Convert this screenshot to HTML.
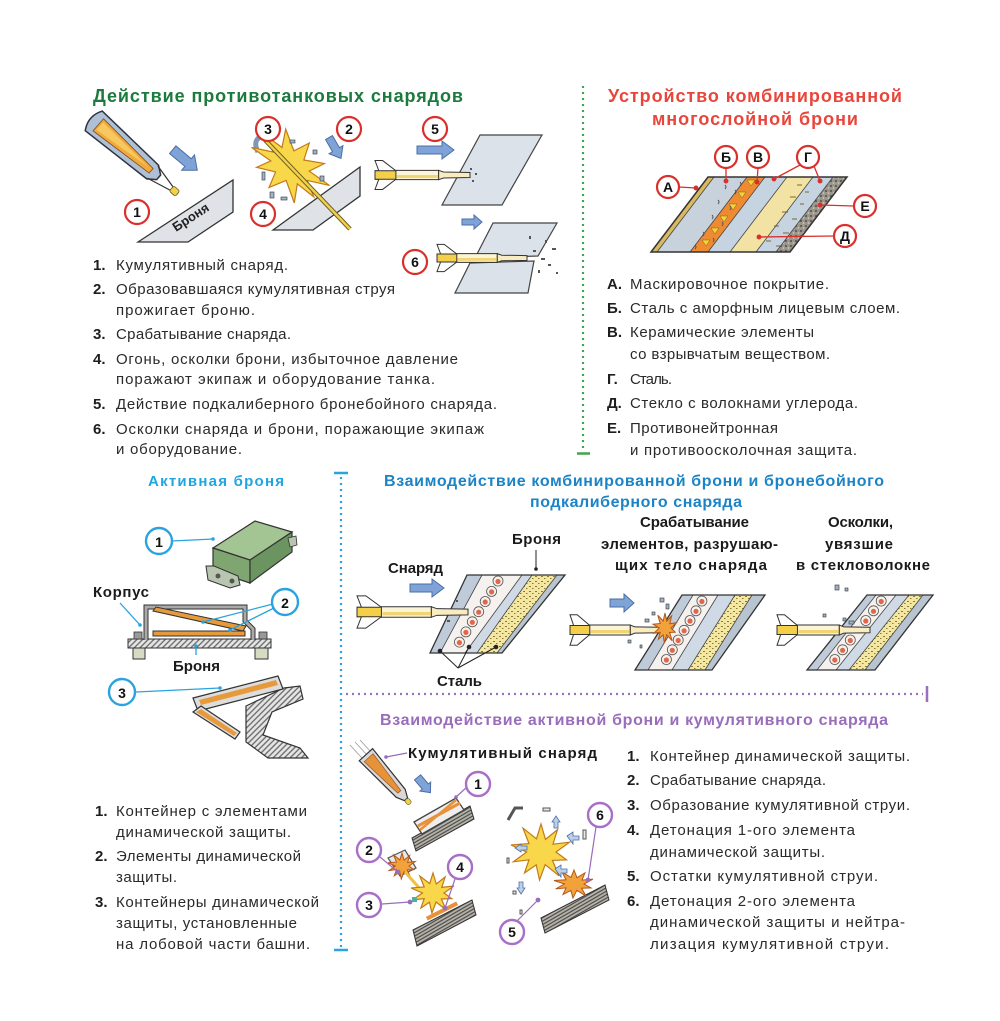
<!DOCTYPE html>
<html><head><meta charset="utf-8">
<style>
html,body{margin:0;padding:0;background:#fff;}
svg{display:block}
.t{font-family:"Liberation Sans","DejaVu Sans",sans-serif;font-size:15px;fill:#2a2a2a}
.n{font-family:"Liberation Sans",sans-serif;font-size:15px;font-weight:bold;fill:#1e1e1e}
.l{font-family:"Liberation Sans",sans-serif;font-size:15px;font-weight:bold;fill:#1a1a1a}
.h{font-family:"Liberation Sans",sans-serif;font-weight:bold}
.c{font-family:"Liberation Sans",sans-serif;font-size:14px;font-weight:bold;fill:#111;text-anchor:middle}
</style></head><body>
<svg width="1000" height="1021" viewBox="0 0 1000 1021" xmlns="http://www.w3.org/2000/svg">
<defs>
 <pattern id="hatch" width="4" height="4" patternUnits="userSpaceOnUse" patternTransform="rotate(45)"><rect width="4" height="4" fill="#e6e6e6"/><line x1="1" y1="0" x2="1" y2="4" stroke="#666" stroke-width="1.3"/></pattern>
 <pattern id="dhatch" width="3" height="3" patternUnits="userSpaceOnUse" patternTransform="rotate(-30)"><rect width="3" height="3" fill="#b9b6ae"/><line x1="0" y1="1" x2="3" y2="1" stroke="#4a4a46" stroke-width="1.2"/></pattern>
 <pattern id="speck" width="5" height="5" patternUnits="userSpaceOnUse"><rect width="5" height="5" fill="#9a968c"/><circle cx="1" cy="1" r="0.9" fill="#3d3b36"/><circle cx="3.5" cy="3" r="0.8" fill="#d6d2c8"/></pattern>
 <pattern id="dots" width="6" height="5" patternUnits="userSpaceOnUse"><rect width="6" height="5" fill="#f3e7a2"/><rect x="1" y="1" width="2" height="1" fill="#8a7a3a"/><rect x="4" y="3" width="1.5" height="1" fill="#8a7a3a"/></pattern>
 <polygon id="star" points="0,-100 15,-45 55,-80 40,-28 95,-35 50,0 85,28 38,30 60,85 14,45 -5,100 -16,46 -55,75 -40,28 -92,35 -48,0 -100,-25 -40,-30 -60,-85 -15,-47" fill="#f8d84a" stroke="#c27a1a" stroke-width="1.2" vector-effect="non-scaling-stroke"/>
 <polygon id="flame" points="0,-100 15,-45 55,-80 40,-28 95,-35 50,0 85,28 38,30 60,85 14,45 -5,100 -16,46 -55,75 -40,28 -92,35 -48,0 -100,-25 -40,-30 -60,-85 -15,-47" fill="#f2a23a" stroke="#b5561a" stroke-width="1" vector-effect="non-scaling-stroke"/>
 <g id="shell">
  <path d="M0,-17 L8,-17 L22,-5 L22,5 L8,17 L0,17 L4,5 L0,5 L0,-5 L4,-5 Z" fill="#fdfdfb" stroke="#333" stroke-width="1" vector-effect="non-scaling-stroke"/>
  <rect x="0" y="-5" width="24" height="10" fill="#f3cf4a" stroke="#333" stroke-width="1" vector-effect="non-scaling-stroke"/>
  <rect x="22" y="-5.5" width="45" height="11" fill="#fbf4d6" stroke="#333" stroke-width="1" vector-effect="non-scaling-stroke"/>
  <rect x="23" y="0" width="44" height="3.5" fill="#f1d575"/>
  <path d="M67,-5.5 L72,-3.5 L100,-3 L100,3 L72,3.5 L67,5.5Z" fill="#f8ecc0" stroke="#333" stroke-width="1" vector-effect="non-scaling-stroke"/>
 </g>
 <g id="bump"><circle r="5" fill="#f7f1ec" stroke="#555" stroke-width="0.8"/><circle r="2.6" cy="0.5" fill="#e2664c"/></g>
</defs>
<rect width="1000" height="1021" fill="#fff"/>

<!-- ===== DIVIDERS ===== -->
<line x1="583" y1="86" x2="583" y2="450" stroke="#3fa64a" stroke-width="2.2" stroke-dasharray="2 4"/>
<line x1="577" y1="453.5" x2="590" y2="453.5" stroke="#3fa64a" stroke-width="2.5"/>
<line x1="341" y1="477" x2="341" y2="947" stroke="#2aa3df" stroke-width="2.2" stroke-dasharray="2 4"/>
<line x1="334" y1="473" x2="348" y2="473" stroke="#2aa3df" stroke-width="2.5"/>
<line x1="334" y1="950" x2="348" y2="950" stroke="#2aa3df" stroke-width="2.5"/>
<line x1="346" y1="694" x2="923" y2="694" stroke="#9b6fbd" stroke-width="2.2" stroke-dasharray="2 4"/>
<line x1="927" y1="686" x2="927" y2="702" stroke="#9b6fbd" stroke-width="2.5"/>

<!-- ===== TITLES ===== -->
<text x="93" y="102" class="h" font-size="18" fill="#1b7a3c" textLength="370">Действие противотанковых снарядов</text>
<text x="608" y="102" class="h" font-size="18" fill="#e8463c" textLength="294">Устройство комбинированной</text>
<text x="652" y="125" class="h" font-size="18" fill="#e8463c" textLength="206">многослойной брони</text>
<text x="148" y="486" class="h" font-size="15" fill="#1fa5e2" textLength="136">Активная броня</text>
<text x="384" y="486" class="h" font-size="16" fill="#1b84c6" textLength="500">Взаимодействие комбинированной брони и бронебойного</text>
<text x="530" y="507" class="h" font-size="16" fill="#1b84c6" textLength="212">подкалиберного снаряда</text>
<text x="380" y="725" class="h" font-size="16" fill="#9a6cbc" textLength="508">Взаимодействие активной брони и кумулятивного снаряда</text>

<!-- ===== TOP-LEFT ILLUSTRATIONS ===== -->
<!-- shell 1 -->
<g transform="translate(133,155) rotate(41)">
 <path d="M-52,-13 Q-60,0 -52,13 L26,9 L34,3 L34,-3 L26,-9 Z" fill="#aebfd6" stroke="#2d3440" stroke-width="1.5"/>
 <path d="M-46,-8 L24,-3 L24,3 L-46,8 Z" fill="#f2a93b" stroke="#7a4a10" stroke-width="0.8"/>
 <path d="M-44,-5 L20,-1 L-44,5 Z" fill="#f7c860"/>
 <line x1="26" y1="-8" x2="52" y2="-2" stroke="#333" stroke-width="1.2"/>
 <line x1="26" y1="8" x2="52" y2="2" stroke="#333" stroke-width="1.2"/>
 <rect x="51" y="-3.5" width="8" height="7" rx="2" fill="#f5d040" stroke="#553" stroke-width="0.8"/>
</g>
<g transform="translate(185,160) rotate(40)"><polygon points="-16,-5 4,-5 4,-10 16,0 4,10 4,5 -16,5" fill="#7fa3d6" stroke="#4a6fa5"/></g>
<polygon points="138,242 233,180 233,212 188,242" fill="#dfe3e8" stroke="#333" stroke-width="1.3"/>
<text x="176" y="232" transform="rotate(-33 176 232)" class="h" font-size="13" fill="#222">Броня</text>
<circle cx="137" cy="212" r="12" fill="#fff" stroke="#d9302c" stroke-width="2.2"/><text x="137" y="217" class="c">1</text>

<!-- shell 2 exploding -->
<polygon points="273,230 360,167 360,196 313,230" fill="#dfe3e8" stroke="#333" stroke-width="1.3"/>
<path d="M258,152 Q252,140 262,136 L272,140" fill="none" stroke="#7f97b8" stroke-width="5"/>
<use href="#star" transform="translate(290,166) rotate(40) scale(0.45,0.3)"/>
<line x1="265" y1="140" x2="350" y2="229" stroke="#6a5a20" stroke-width="4.5"/>
<line x1="265" y1="140" x2="350" y2="229" stroke="#f1d04a" stroke-width="2.5"/>
<g fill="#9fb2c8" stroke="#333" stroke-width="0.6">
<rect x="262" y="172" width="3" height="8"/><rect x="270" y="192" width="4" height="6"/><rect x="281" y="197" width="6" height="3"/><rect x="313" y="150" width="4" height="4"/><rect x="320" y="176" width="4" height="5"/><rect x="290" y="140" width="5" height="3"/>
</g>
<g transform="translate(335,148) rotate(60)"><polygon points="-12,-4 2,-4 2,-8 12,0 2,8 2,4 -12,4" fill="#7fa3d6" stroke="#4a6fa5"/></g>
<circle cx="268" cy="129" r="12" fill="#fff" stroke="#d9302c" stroke-width="2.2"/><text x="268" y="134" class="c">3</text>
<circle cx="349" cy="129" r="12" fill="#fff" stroke="#d9302c" stroke-width="2.2"/><text x="349" y="134" class="c">2</text>
<circle cx="263" cy="214" r="12" fill="#fff" stroke="#d9302c" stroke-width="2.2"/><text x="263" y="219" class="c">4</text>

<!-- shell 5 -->
<polygon points="417,146 442,146 442,141 454,150 442,159 442,154 417,154" fill="#7fa3d6" stroke="#4a6fa5"/>
<polygon points="480,135 542,135 502,205 442,205" fill="#dbe2ea" stroke="#444" stroke-width="1.2"/>
<use href="#shell" transform="translate(375,175) scale(0.95,0.85)"/>
<g fill="#555"><rect x="470" y="168" width="2" height="2"/><rect x="475" y="173" width="2" height="2"/><rect x="472" y="180" width="2" height="2"/></g>
<circle cx="435" cy="129" r="12" fill="#fff" stroke="#d9302c" stroke-width="2.2"/><text x="435" y="134" class="c">5</text>

<!-- shell 6 -->
<polygon points="462,219 474,219 474,215 482,222 474,229 474,225 462,225" fill="#7fa3d6" stroke="#4a6fa5"/>
<polygon points="493,223 557,223 538,256 475,258" fill="#dbe2ea" stroke="#444" stroke-width="1.2"/>
<polygon points="470,263 534,261 528,293 455,293" fill="#dbe2ea" stroke="#444" stroke-width="1.2"/>
<use href="#shell" transform="translate(437,258) scale(0.9,0.8)"/>
<g fill="#555"><rect x="533" y="250" width="3" height="2"/><rect x="541" y="258" width="4" height="2"/><rect x="548" y="264" width="3" height="2"/><rect x="538" y="270" width="2" height="3"/><rect x="552" y="248" width="4" height="2"/><rect x="545" y="240" width="2" height="3"/><rect x="529" y="236" width="2" height="3"/><rect x="556" y="272" width="2" height="2"/></g>
<circle cx="415" cy="262" r="12" fill="#fff" stroke="#d9302c" stroke-width="2.2"/><text x="415" y="267" class="c">6</text>

<!-- ===== TOP-LEFT LIST ===== -->
<text x="93" y="270" class="n">1.</text><text x="116" y="270" class="t" textLength="172">Кумулятивный снаряд.</text>
<text x="93" y="294" class="n">2.</text><text x="116" y="294" class="t" textLength="279">Образовавшаяся кумулятивная струя</text>
<text x="116" y="315" class="t" textLength="139">прожигает броню.</text>
<text x="93" y="339" class="n">3.</text><text x="116" y="339" class="t" textLength="175">Срабатывание снаряда.</text>
<text x="93" y="364" class="n">4.</text><text x="116" y="364" class="t" textLength="342">Огонь, осколки брони, избыточное давление</text>
<text x="116" y="384" class="t" textLength="319">поражают экипаж и оборудование танка.</text>
<text x="93" y="409" class="n">5.</text><text x="116" y="409" class="t" textLength="381">Действие подкалиберного бронебойного снаряда.</text>
<text x="93" y="434" class="n">6.</text><text x="116" y="434" class="t" textLength="368">Осколки снаряда и брони, поражающие экипаж</text>
<text x="116" y="454" class="t" textLength="126">и оборудование.</text>

<!-- ===== COMBINED ARMOUR (RED) ===== -->
<polygon points="708,177 714,177 657,252 651,252" fill="#d8b860"/>
<polygon points="714,177 747,177 690,252 657,252" fill="#c8d2dc"/>
<polygon points="747,177 765,177 708,252 690,252" fill="#ee8a32"/>
<polygon points="765,177 787,177 730,252 708,252" fill="#c6d3e1"/>
<polygon points="787,177 813,177 756,252 730,252" fill="#f2e2a4"/>
<polygon points="813,177 833,177 776,252 756,252" fill="#c6d3e1"/>
<polygon points="833,177 847,177 790,252 776,252" fill="url(#speck)"/>
<g fill="#f5d23c" stroke="#8a5a10" stroke-width="0.5">
<polygon points="747,180 755,180 751,186"/><polygon points="738,192 746,192 742,198"/><polygon points="729,204 737,204 733,210"/><polygon points="720,216 728,216 724,222"/><polygon points="711,228 719,228 715,234"/><polygon points="702,240 710,240 706,246"/>
</g>
<g stroke="#555" stroke-width="1" fill="none">
<path d="M725,185 q2,2 0,4 M735,190 q2,2 0,4 M718,200 q2,2 0,4 M730,206 q2,2 0,4 M712,215 q2,2 0,4 M722,222 q2,2 0,4 M703,232 q2,2 0,4 M713,238 q2,2 0,4 M695,245 q2,2 0,4 M740,182 q2,2 0,4"/>
</g>
<g stroke="#7a6a30" stroke-width="1">
<path d="M797,185 h5 M790,197 h6 M800,204 h4 M782,212 h6 M792,219 h5 M774,226 h5 M783,233 h6 M766,241 h5 M776,246 h4 M805,192 h4"/>
</g>
<g stroke="#444" stroke-width="0.8" fill="none">
<line x1="714" y1="177" x2="657" y2="252"/><line x1="747" y1="177" x2="690" y2="252"/><line x1="765" y1="177" x2="708" y2="252"/><line x1="787" y1="177" x2="730" y2="252"/><line x1="813" y1="177" x2="756" y2="252"/><line x1="833" y1="177" x2="776" y2="252"/>
</g>
<polygon points="708,177 847,177 790,252 651,252" fill="none" stroke="#333" stroke-width="1.5"/>
<g stroke="#d9302c" stroke-width="1.3" fill="#d9302c">
<line x1="679" y1="187" x2="696" y2="188"/><circle cx="696" cy="188" r="1.8"/>
<line x1="726" y1="168" x2="726" y2="181"/><circle cx="726" cy="181" r="1.8"/>
<line x1="758" y1="168" x2="757" y2="182"/><circle cx="757" cy="182" r="1.8"/>
<line x1="800" y1="165" x2="774" y2="179"/><circle cx="774" cy="179" r="1.8"/>
<line x1="814" y1="166" x2="820" y2="181"/><circle cx="820" cy="181" r="1.8"/>
<line x1="854" y1="206" x2="820" y2="205"/><circle cx="820" cy="205" r="1.8"/>
<line x1="834" y1="236" x2="759" y2="237"/><circle cx="759" cy="237" r="1.8"/>
</g>
<g>
<circle cx="668" cy="187" r="11" fill="#fff" stroke="#d9302c" stroke-width="2.2"/><text x="668" y="192" class="c" font-size="13">А</text>
<circle cx="726" cy="157" r="11" fill="#fff" stroke="#d9302c" stroke-width="2.2"/><text x="726" y="162" class="c" font-size="13">Б</text>
<circle cx="758" cy="157" r="11" fill="#fff" stroke="#d9302c" stroke-width="2.2"/><text x="758" y="162" class="c" font-size="13">В</text>
<circle cx="808" cy="157" r="11" fill="#fff" stroke="#d9302c" stroke-width="2.2"/><text x="808" y="162" class="c" font-size="13">Г</text>
<circle cx="865" cy="206" r="11" fill="#fff" stroke="#d9302c" stroke-width="2.2"/><text x="865" y="211" class="c" font-size="13">Е</text>
<circle cx="845" cy="236" r="11" fill="#fff" stroke="#d9302c" stroke-width="2.2"/><text x="845" y="241" class="c" font-size="13">Д</text>
</g>

<!-- ===== RIGHT LIST ===== -->
<text x="607" y="289" class="n">А.</text><text x="630" y="289" class="t" textLength="199">Маскировочное покрытие.</text>
<text x="607" y="313" class="n">Б.</text><text x="630" y="313" class="t" textLength="270">Сталь с аморфным лицевым слоем.</text>
<text x="607" y="337" class="n">В.</text><text x="630" y="337" class="t" textLength="184">Керамические элементы</text>
<text x="630" y="359" class="t" textLength="200">со взрывчатым веществом.</text>
<text x="607" y="384" class="n">Г.</text><text x="630" y="384" class="t" textLength="42">Сталь.</text>
<text x="607" y="408" class="n">Д.</text><text x="630" y="408" class="t" textLength="228">Стекло с волокнами углерода.</text>
<text x="607" y="433" class="n">Е.</text><text x="630" y="433" class="t" textLength="148">Противонейтронная</text>
<text x="630" y="455" class="t" textLength="227">и противоосколочная защита.</text>

<!-- ===== ACTIVE ARMOUR ===== -->
<polygon points="213,548 255,521 292,532 250,560" fill="#a3c493" stroke="#333" stroke-width="1.2"/>
<polygon points="213,548 250,560 250,583 213,571" fill="#7fa670" stroke="#333" stroke-width="1.2"/>
<polygon points="250,560 292,532 292,552 250,583" fill="#6c9460" stroke="#333" stroke-width="1.2"/>
<polygon points="206,566 214,566 238,576 240,585 230,588 208,580" fill="#b8c6b0" stroke="#333" stroke-width="1"/>
<circle cx="218" cy="576" r="2.5" fill="#555"/><circle cx="232" cy="581" r="2.5" fill="#555"/>
<polygon points="288,538 296,536 297,545 290,547" fill="#b8c6b0" stroke="#333" stroke-width="0.8"/>
<line x1="172" y1="541" x2="213" y2="539" stroke="#2aa3df" stroke-width="1.3"/><circle cx="213" cy="539" r="1.8" fill="#2aa3df"/>
<circle cx="159" cy="541" r="13" fill="#fff" stroke="#2aa3df" stroke-width="2.4"/><text x="159" y="547" class="c" font-size="16">1</text>

<text x="93" y="597" class="l" textLength="56">Корпус</text>
<rect x="128" y="639" width="143" height="9" fill="url(#hatch)" stroke="#333" stroke-width="1"/>
<rect x="133" y="648" width="12" height="11" fill="#d6dcc4" stroke="#333" stroke-width="1"/>
<rect x="255" y="648" width="13" height="11" fill="#d6dcc4" stroke="#333" stroke-width="1"/>
<rect x="134" y="632" width="8" height="7" fill="#999" stroke="#333" stroke-width="0.8"/>
<rect x="259" y="632" width="8" height="7" fill="#999" stroke="#333" stroke-width="0.8"/>
<path d="M146,640 L146,607 L245,607 L245,621 L253,629 L253,640" fill="none" stroke="#333" stroke-width="5"/>
<path d="M146,640 L146,607 L245,607 L245,621 L253,629 L253,640" fill="none" stroke="#aaa" stroke-width="3"/>
<rect x="153" y="631" width="92" height="5" fill="#e79a3c" stroke="#333" stroke-width="1"/>
<polygon points="153,611 156,607 246,626 243,631" fill="#e79a3c" stroke="#333" stroke-width="1"/>
<line x1="120" y1="603" x2="140" y2="625" stroke="#2aa3df" stroke-width="1.3"/><circle cx="140" cy="625" r="1.8" fill="#2aa3df"/>
<line x1="273" y1="604" x2="203" y2="622" stroke="#2aa3df" stroke-width="1.3"/><circle cx="203" cy="622" r="1.8" fill="#2aa3df"/>
<line x1="274" y1="608" x2="230" y2="630" stroke="#2aa3df" stroke-width="1.3"/><circle cx="230" cy="630" r="1.8" fill="#2aa3df"/>
<line x1="196" y1="647" x2="196" y2="655" stroke="#2aa3df" stroke-width="1.3"/><circle cx="196" cy="646" r="1.8" fill="#2aa3df"/>
<circle cx="285" cy="602" r="13" fill="#fff" stroke="#2aa3df" stroke-width="2.4"/><text x="285" y="608" class="c" font-size="16">2</text>
<text x="173" y="671" class="l" textLength="47">Броня</text>

<!-- turret -->
<polygon points="246,706 284,688 300,686 303,699 272,712 263,735 300,748 308,758 268,758 246,742" fill="url(#hatch)" stroke="#333" stroke-width="1.2"/>
<polygon points="193,698 278,676 283,689 198,711" fill="#ddd" stroke="#333" stroke-width="1.2"/>
<polygon points="199,700 276,680 278,685 201,705" fill="#e79a3c"/>
<polygon points="193,712 201,706 240,732 235,739" fill="#ddd" stroke="#333" stroke-width="1.2"/>
<polygon points="196,712 201,709 237,733 234,736" fill="#e79a3c"/>
<line x1="136" y1="692" x2="220" y2="688" stroke="#2aa3df" stroke-width="1.3"/><circle cx="220" cy="688" r="1.8" fill="#2aa3df"/>
<circle cx="122" cy="692" r="13" fill="#fff" stroke="#2aa3df" stroke-width="2.4"/><text x="122" y="698" class="c" font-size="16">3</text>

<!-- ===== BOTTOM-LEFT LIST ===== -->
<text x="95" y="816" class="n">1.</text><text x="116" y="816" class="t" textLength="191">Контейнер с элементами</text>
<text x="116" y="837" class="t" textLength="175">динамической защиты.</text>
<text x="95" y="861" class="n">2.</text><text x="116" y="861" class="t" textLength="185">Элементы динамической</text>
<text x="116" y="882" class="t" textLength="61">защиты.</text>
<text x="95" y="907" class="n">3.</text><text x="116" y="907" class="t" textLength="203">Контейнеры динамической</text>
<text x="116" y="928" class="t" textLength="181">защиты, установленные</text>
<text x="116" y="949" class="t" textLength="194">на лобовой части башни.</text>

<!-- ===== MIDDLE: COMBINED vs APFSDS ===== -->
<text x="388" y="573" class="l" textLength="55">Снаряд</text>
<text x="512" y="544" class="l" textLength="49">Броня</text>
<text x="640" y="527" class="l" textLength="109">Срабатывание</text>
<text x="601" y="549" class="l" textLength="177">элементов, разрушаю-</text>
<text x="615" y="570" class="l" textLength="152">щих тело снаряда</text>
<text x="828" y="527" class="l" textLength="65">Осколки,</text>
<text x="825" y="549" class="l" textLength="68">увязшие</text>
<text x="796" y="570" class="l" textLength="134">в стекловолокне</text>
<line x1="536" y1="550" x2="536" y2="569" stroke="#222" stroke-width="1"/><circle cx="536" cy="569" r="1.8" fill="#222"/>

<!-- armour 1 -->
<polygon points="467,575 482,575 440,653 430,653" fill="#bfcbd8"/>
<polygon points="482,575 522,575 465,653 440,653" fill="#f4f1ee"/>
<polygon points="522,575 532,575 477,653 465,653" fill="#cfdae6"/>
<polygon points="532,575 557,575 497,653 477,653" fill="url(#dots)"/>
<polygon points="557,575 565,575 502,653 497,653" fill="#b8c4d0"/>
<use href="#bump" x="498" y="581"/><use href="#bump" x="491.6" y="591.4"/><use href="#bump" x="485.2" y="601.5"/><use href="#bump" x="478.7" y="611.7"/><use href="#bump" x="472.3" y="621.8"/><use href="#bump" x="465.9" y="631.9"/><use href="#bump" x="459.4" y="642.1"/>
<g stroke="#444" stroke-width="0.8"><line x1="482" y1="575" x2="440" y2="653"/><line x1="522" y1="575" x2="465" y2="653"/><line x1="532" y1="575" x2="477" y2="653"/><line x1="557" y1="575" x2="497" y2="653"/></g>
<polygon points="467,575 565,575 502,653 430,653" fill="none" stroke="#333" stroke-width="1.3"/>
<polygon points="410,584 432,584 432,579 444,588 432,597 432,592 410,592" fill="#7fa3d6" stroke="#4a6fa5"/>
<use href="#shell" transform="translate(357,612) scale(1.11,0.95)"/>
<g fill="#555"><rect x="456" y="600" width="2" height="2"/><rect x="447" y="620" width="3" height="2"/></g>
<g stroke="#222" stroke-width="1" fill="#222">
<line x1="458" y1="668" x2="440" y2="651"/><line x1="458" y1="668" x2="469" y2="647"/><line x1="458" y1="668" x2="496" y2="647"/>
<circle cx="440" cy="651" r="1.8"/><circle cx="469" cy="647" r="1.8"/><circle cx="496" cy="647" r="1.8"/>
</g>
<text x="437" y="686" class="l" textLength="45">Сталь</text>

<!-- armour 2 -->
<polygon points="682,595 693,595 648,670 635,670" fill="#bfcbd8"/>
<polygon points="693,595 718,595 672,670 648,670" fill="#f4f1ee"/>
<polygon points="718,595 735,595 688,670 672,670" fill="#cfdae6"/>
<polygon points="735,595 752,595 705,670 688,670" fill="url(#dots)"/>
<polygon points="752,595 765,595 712,670 705,670" fill="#b8c4d0"/>
<use href="#bump" x="701.9" y="601"/><use href="#bump" x="696" y="610.8"/><use href="#bump" x="690" y="620.5"/><use href="#bump" x="684.1" y="630.3"/><use href="#bump" x="678.2" y="640"/><use href="#bump" x="672.3" y="649.8"/><use href="#bump" x="666.4" y="659.5"/>
<g stroke="#444" stroke-width="0.8"><line x1="693" y1="595" x2="648" y2="670"/><line x1="718" y1="595" x2="672" y2="670"/><line x1="735" y1="595" x2="688" y2="670"/><line x1="752" y1="595" x2="705" y2="670"/></g>
<polygon points="682,595 765,595 712,670 635,670" fill="none" stroke="#333" stroke-width="1.3"/>
<polygon points="610,599 624,599 624,594 634,603 624,612 624,607 610,607" fill="#7fa3d6" stroke="#4a6fa5"/>
<use href="#shell" transform="translate(570,630) scale(0.9,0.9)"/>
<use href="#flame" transform="translate(665,628) scale(0.12,0.15)"/>
<g fill="#9fb2c8" stroke="#333" stroke-width="0.6"><rect x="660" y="598" width="4" height="4"/><rect x="652" y="612" width="3" height="3"/><rect x="645" y="619" width="4" height="3"/><rect x="666" y="604" width="3" height="5"/><rect x="640" y="645" width="2" height="3"/><rect x="628" y="640" width="3" height="3"/></g>

<!-- armour 3 -->
<polygon points="867,595 876,595 817,670 807,670" fill="#bfcbd8"/>
<polygon points="876,595 896,595 836,670 817,670" fill="#f4f1ee"/>
<polygon points="896,595 909,595 849,670 836,670" fill="#cfdae6"/>
<polygon points="909,595 923,595 865,670 849,670" fill="url(#dots)"/>
<polygon points="923,595 933,595 875,670 865,670" fill="#b8c4d0"/>
<use href="#bump" x="881.2" y="601"/><use href="#bump" x="873.5" y="610.8"/><use href="#bump" x="865.8" y="620.5"/><use href="#bump" x="850.3" y="640"/><use href="#bump" x="842.6" y="649.8"/><use href="#bump" x="834.8" y="659.5"/>
<g stroke="#444" stroke-width="0.8"><line x1="876" y1="595" x2="817" y2="670"/><line x1="896" y1="595" x2="836" y2="670"/><line x1="909" y1="595" x2="849" y2="670"/><line x1="923" y1="595" x2="865" y2="670"/></g>
<polygon points="867,595 933,595 875,670 807,670" fill="none" stroke="#333" stroke-width="1.3"/>
<use href="#shell" transform="translate(777,630) scale(0.93,0.9)"/>
<g fill="#9fb2c8" stroke="#333" stroke-width="0.6"><rect x="835" y="585" width="4" height="5"/><rect x="845" y="588" width="3" height="3"/><rect x="823" y="614" width="3" height="3"/><rect x="843" y="618" width="3" height="3"/><rect x="849" y="621" width="5" height="3"/></g>

<!-- ===== BOTTOM: ACTIVE vs HEAT ===== -->
<text x="408" y="758" class="l" textLength="189">Кумулятивный снаряд</text>
<g stroke="#999" stroke-width="0.8"><line x1="350" y1="745" x2="362" y2="758"/><line x1="355" y1="742" x2="367" y2="755"/><line x1="360" y1="740" x2="370" y2="751"/></g>
<g transform="translate(386,777) rotate(48)">
 <path d="M-30,-9 L22,-6 L30,-2 L30,2 L22,6 L-30,9 Z" fill="#d8d8d8" stroke="#333" stroke-width="1.2"/>
 <path d="M-26,-6 L20,-2 L20,2 L-26,6 Z" fill="#e7913a" stroke="#8a4a10" stroke-width="0.6"/>
 <rect x="30" y="-2.5" width="6" height="5" rx="2" fill="#f3d040" stroke="#553" stroke-width="0.6"/>
</g>
<line x1="386" y1="757" x2="407" y2="753" stroke="#9a6cbc" stroke-width="1.2"/><circle cx="386" cy="757" r="1.8" fill="#9a6cbc"/>
<g transform="translate(424,785) rotate(50)"><polygon points="-10,-4 2,-4 2,-7 10,0 2,7 2,4 -10,4" fill="#7fa3d6" stroke="#4a6fa5"/></g>
<polygon points="412,838 470,806 474,819 416,851" fill="url(#dhatch)" stroke="#333" stroke-width="1"/>
<polygon points="414,822 456,798 464,810 422,834" fill="#eee" stroke="#444" stroke-width="1.3"/>
<line x1="418" y1="826" x2="460" y2="803" stroke="#e7913a" stroke-width="3"/>
<line x1="420" y1="830" x2="456" y2="800" stroke="#e7913a" stroke-width="2.5"/>
<line x1="467" y1="787" x2="456" y2="797" stroke="#9a6cbc" stroke-width="1.2"/><circle cx="456" cy="797" r="1.8" fill="#9a6cbc"/>

<!-- explosion 1 -->
<polygon points="413,930 472,900 476,915 417,946" fill="url(#dhatch)" stroke="#333" stroke-width="1"/>
<polygon points="388,858 405,850 416,868 400,876" fill="#e8e8e8" stroke="#555" stroke-width="1.2"/>
<use href="#flame" transform="translate(402,866) scale(0.14,0.13)"/>
<line x1="405" y1="872" x2="430" y2="900" stroke="#f0c040" stroke-width="3"/>
<use href="#star" transform="translate(433,893) scale(0.22,0.2)"/>
<rect x="425" y="909" width="34" height="4" fill="#e7913a" transform="rotate(-27 442 911)"/>
<rect x="412" y="897" width="5" height="5" fill="#4fb0a0"/>
<g stroke="#9a6cbc" stroke-width="1.2" fill="#9a6cbc">
<line x1="380" y1="857" x2="398" y2="872"/><circle cx="398" cy="872" r="1.8"/>
<line x1="382" y1="904" x2="410" y2="902"/><circle cx="410" cy="902" r="1.8"/>
<line x1="455" y1="879" x2="445" y2="908"/><circle cx="445" cy="908" r="1.8"/>
</g>

<!-- explosion 2 -->
<polygon points="541,918 605,885 609,900 545,933" fill="url(#dhatch)" stroke="#333" stroke-width="1"/>
<use href="#star" transform="translate(541,852) scale(0.3,0.28)"/>
<use href="#flame" transform="translate(574,884) scale(0.2,0.14)"/>
<g fill="#bcd0e8" stroke="#4a6fa5" stroke-width="0.8">
<polygon points="552,822 556,816 560,822 558,822 558,828 554,828 554,822"/>
<polygon points="521,852 515,848 521,844 521,846 527,846 527,850 521,850"/>
<polygon points="567,836 573,832 573,836 579,836 579,840 573,840 573,844"/>
<polygon points="525,888 521,894 517,888 519,888 519,882 523,882 523,888"/>
<polygon points="555,869 561,865 561,869 567,869 567,873 561,873 561,877"/>
</g>
<g fill="#e8e8e8" stroke="#555" stroke-width="1">
<path d="M508,820 L515,808 L523,808" fill="none" stroke-width="3"/>
<rect x="543" y="808" width="7" height="3"/><rect x="583" y="830" width="3" height="9"/><rect x="590" y="815" width="3" height="6"/><rect x="507" y="858" width="2" height="5"/><rect x="513" y="891" width="3" height="3"/><rect x="520" y="910" width="2" height="4"/>
</g>
<g stroke="#9a6cbc" stroke-width="1.2" fill="#9a6cbc">
<line x1="517" y1="921" x2="538" y2="900"/><circle cx="538" cy="900" r="1.8"/>
<line x1="596" y1="827" x2="588" y2="880"/><circle cx="588" cy="880" r="1.8"/>
</g>

<g>
<circle cx="478" cy="784" r="12" fill="#fff" stroke="#a86ec8" stroke-width="2.4"/><text x="478" y="789" class="c">1</text>
<circle cx="369" cy="850" r="12" fill="#fff" stroke="#a86ec8" stroke-width="2.4"/><text x="369" y="855" class="c">2</text>
<circle cx="369" cy="905" r="12" fill="#fff" stroke="#a86ec8" stroke-width="2.4"/><text x="369" y="910" class="c">3</text>
<circle cx="460" cy="867" r="12" fill="#fff" stroke="#a86ec8" stroke-width="2.4"/><text x="460" y="872" class="c">4</text>
<circle cx="512" cy="932" r="12" fill="#fff" stroke="#a86ec8" stroke-width="2.4"/><text x="512" y="937" class="c">5</text>
<circle cx="600" cy="815" r="12" fill="#fff" stroke="#a86ec8" stroke-width="2.4"/><text x="600" y="820" class="c">6</text>
</g>

<!-- ===== BOTTOM-RIGHT LIST ===== -->
<text x="627" y="761" class="n">1.</text><text x="650" y="761" class="t" textLength="260">Контейнер динамической защиты.</text>
<text x="627" y="785" class="n">2.</text><text x="650" y="785" class="t" textLength="176">Срабатывание снаряда.</text>
<text x="627" y="810" class="n">3.</text><text x="650" y="810" class="t" textLength="260">Образование кумулятивной струи.</text>
<text x="627" y="835" class="n">4.</text><text x="650" y="835" class="t" textLength="205">Детонация 1-ого элемента</text>
<text x="650" y="857" class="t" textLength="175">динамической защиты.</text>
<text x="627" y="881" class="n">5.</text><text x="650" y="881" class="t" textLength="228">Остатки кумулятивной струи.</text>
<text x="627" y="906" class="n">6.</text><text x="650" y="906" class="t" textLength="205">Детонация 2-ого элемента</text>
<text x="650" y="927" class="t" textLength="255">динамической защиты и нейтра-</text>
<text x="650" y="949" class="t" textLength="239">лизация кумулятивной струи.</text>
</svg>
</body></html>
